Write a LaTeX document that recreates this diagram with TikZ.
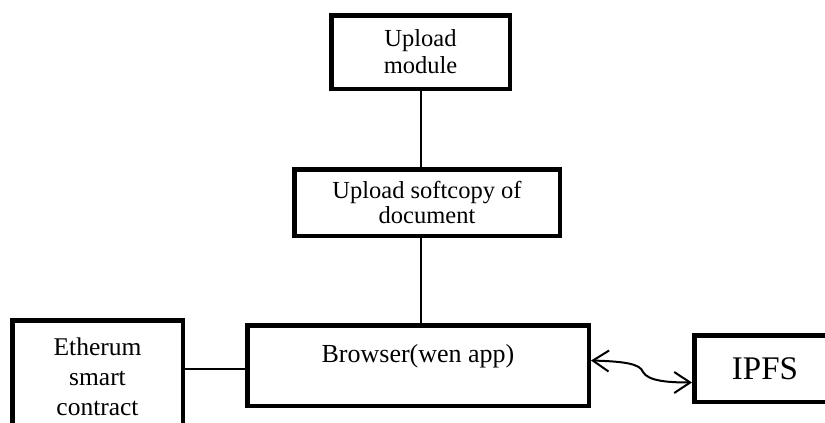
\documentclass[tikz,border=0pt]{standalone}
\usepackage{fontspec}
\setmainfont{Liberation Serif}
\usepackage{tikz}
\usetikzlibrary{positioning,arrows.meta}

\begin{document}
\begin{tikzpicture}[x=1pt, y=-1pt,
    box/.style={rectangle, draw=black, line width=4.5pt, fill=white, align=center, inner sep=2pt},
    link/.style={draw=black, line width=2pt},
    arrow/.style={line width=2pt, {Straight Barb[length=16pt,width=21pt]}-{Straight Barb[length=16pt,width=21pt]}}
]
\useasboundingbox (0,0) rectangle (825,423);
% Upper chain (connectors at x=420)
\node[box, minimum width=178.5pt, minimum height=73.5pt, font=\fontsize{24.5}{27}\selectfont]
      at (420.5,52)  (upload)   {Upload\\module};
\node[box, minimum width=265.5pt, minimum height=66.5pt, font=\fontsize{24.5}{25}\selectfont]
      at (427,202.5) (softcopy) {Upload softcopy of\\document};
\node[box, minimum width=341.5pt, minimum height=80.5pt, text height=18pt, text depth=25pt,
      font=\fontsize{26}{28}\selectfont]
      at (418,365.5) (browser)  {Browser(wen app)};
% Side boxes
\node[box, minimum width=170.5pt, minimum height=113.5pt, font=\fontsize{25.5}{30}\selectfont]
      at (97.5,377)  (ether)    {Etherum\\smart\\contract};
\node[box, minimum width=141.5pt, minimum height=66.5pt, font=\fontsize{33}{36}\selectfont]
      at (765,368.5) (ipfs)     {IPFS};
\coordinate (kink) at (643,372);

\draw[link] (upload.south) -- (upload |- softcopy.north);
\draw[link] (softcopy.south -| upload) -- (browser.north -| upload);
\draw[link] (ether.east |- 0,369) -- (browser.west |- 0,369);
\draw[arrow] ([yshift=5pt]browser.east) .. controls +(35,1) and +(-3,-8) .. (kink)
             .. controls +(5,9) and +(-24,0) .. ([yshift=-14pt]ipfs.west);
\end{tikzpicture}
\end{document}
